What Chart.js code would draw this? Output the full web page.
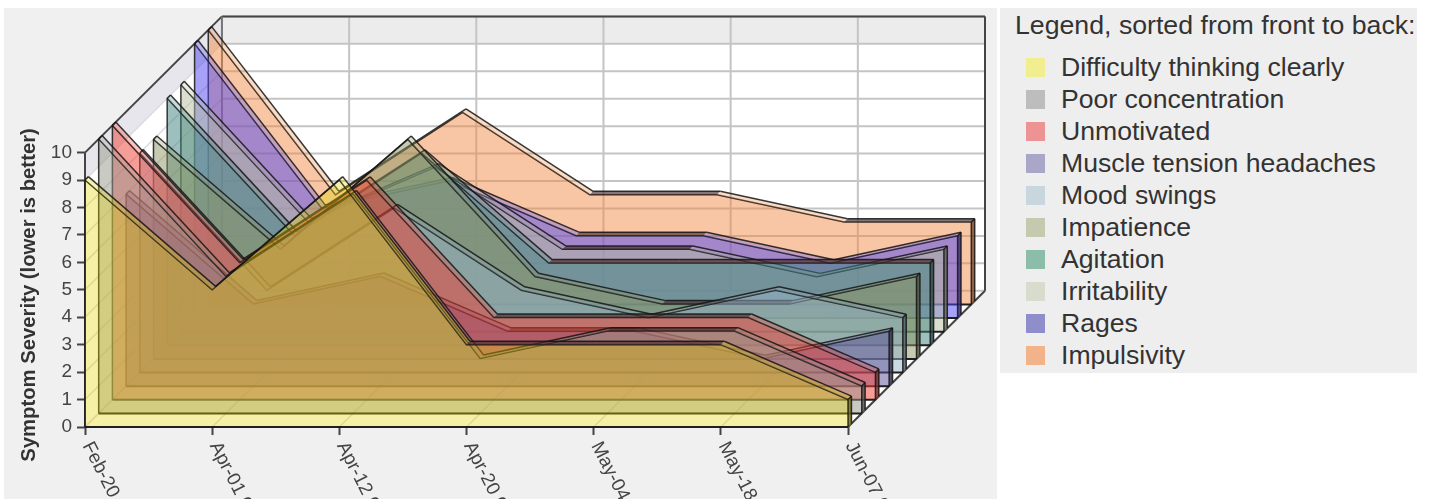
<!DOCTYPE html>
<html>
<head>
<meta charset="utf-8">
<title>Symptom Severity</title>
<script src="https://cdn.jsdelivr.net/npm/chart.js@4/dist/chart.umd.min.js"></script>
<style>
  html, body { margin: 0; padding: 0; background: #fff; }
  body { width: 1433px; height: 499px; overflow: hidden; position: relative; font-family: "Liberation Sans", Arial, sans-serif; }
  #panel { position: absolute; left: 4px; top: 8px; width: 993px; height: 491px; background: #f0f0f0; }
  #wrap { position: absolute; left: 0; top: 0; width: 1000px; height: 499px; }
  #legend { position: absolute; left: 1000px; top: 8px; width: 417px; height: 365px; background: #eeeeee; color: #333; }
  #legend .title { position: absolute; left: 15px; top: 2px; font-size: 26.7px; line-height: 30px; white-space: nowrap; }
  #legend .item { position: absolute; left: 61px; font-size: 26.6px; line-height: 32px; white-space: nowrap; }
  #legend .swatch { position: absolute; left: 26px; width: 19px; height: 19px; }
</style>
</head>
<body>
<div id="panel"></div>
<div id="wrap"><canvas id="chart" width="1000" height="499"></canvas></div>
<div id="legend"><div class="title">Legend, sorted from front to back:</div></div>
<script>
document.addEventListener("DOMContentLoaded", () => {

  // Sorted from front to back
  const dates = ["Feb-20", "Apr-01 0", "Apr-12 0", "Apr-20 0", "May-04", "May-18", "Jun-07 0"];
  const severityTicks = [0, 1, 2, 3, 4, 5, 6, 7, 8, 9, 10];
  const seriesNames = ["Difficulty thinking clearly", "Poor concentration", "Unmotivated", "Muscle tension headaches",
    "Mood swings", "Impatience", "Agitation", "Irritability", "Rages", "Impulsivity"];

  const difficultyThinking = [9, 5, 9, 3, 3, 3, 1];
  const poorConcentration = [10, 5, 8, 2, 3, 3, 1];
  const unmotivated = [10, 5, 8, 3, 3, 3, 1];
  const muscleTension = [7, 3, 4, 2, 2, 1, 2];
  const moodSwings = [8, 3, 6, 3, 2, 3, 2];
  const impatience = [8, 4, 8, 3, 2, 2, 3];
  const agitation = [9, 4, 7, 3, 3, 3, 3];
  const irritability = [9, 4, 6, 3, 3, 2, 3];
  const rages = [10, 4, 5, 3, 3, 2, 3];
  const impulsivity = [10, 4, 7, 4, 4, 3, 3];
  const seriesValues = [difficultyThinking, poorConcentration, unmotivated, muscleTension, moodSwings,
    impatience, agitation, irritability, rages, impulsivity];

  const seriesRgb = ["226,212,0", "150,150,140", "240,60,50", "90,80,150", "150,180,200",
    "140,150,100", "60,130,125", "180,190,160", "80,70,240", "240,135,65"];
  const seriesAlpha = [0.35, 0.5, 0.5, 0.5, 0.5, 0.5, 0.5, 0.5, 0.5, 0.48];
  const legendColors = ["#f0ee8f", "#bdbdbd", "#ee9393", "#a9a7c8", "#c8d6de",
    "#c5c9ad", "#8bbda8", "#d8dccd", "#8f8ecb", "#f2b38a"];

  // Projection: every depth plane is the same axis pair with a shifted range
  const X_SPAN = 7.077, Y_SPAN = 14.964;
  const DEPTH_X = 0.1077, DEPTH_Y = 0.4964;
  const PLANES = seriesNames.length;
  const RIBBON = 3.4;

  const scales = {
    x: {
      type: "linear", position: "bottom", min: 0, max: X_SPAN, bounds: "data",
      afterBuildTicks: s => { s.ticks = dates.map((d, k) => ({ value: k })); },
      afterFit: s => { s.height = 72; },
      border: { display: false },
      grid: { drawOnChartArea: false, drawTicks: true, tickLength: 8, tickColor: "#444", tickWidth: 2 },
      ticks: { display: false, autoSkip: false }
    },
    y: {
      type: "linear", position: "left", min: 0, max: Y_SPAN, bounds: "data",
      afterBuildTicks: s => { s.ticks = severityTicks.map(v => ({ value: v })); },
      afterFit: s => { s.width = 85; },
      border: { display: false },
      grid: { drawOnChartArea: false, drawTicks: true, tickLength: 8, tickColor: "#444", tickWidth: 2 },
      ticks: { autoSkip: false, padding: 5, color: "#444", font: { family: "Liberation Sans", size: 19 }, callback: v => String(v) }
    }
  };
  for (let i = 0; i <= PLANES; i++) {
    scales["x" + i] = { type: "linear", axis: "x", display: false, bounds: "data", min: -i * DEPTH_X, max: X_SPAN - i * DEPTH_X };
    scales["y" + i] = { type: "linear", axis: "y", display: false, bounds: "data", min: -i * DEPTH_Y, max: Y_SPAN - i * DEPTH_Y };
  }

  const datasets = seriesNames.map((name, i) => ({
    label: name,
    data: seriesValues[i].map((v, k) => ({ x: k, y: v })),
    xAxisID: "x" + i,
    yAxisID: "y" + i,
    fill: "origin",
    tension: 0,
    pointRadius: 0,
    borderWidth: 1.5,
    borderColor: "rgba(20,20,20,0.85)",
    backgroundColor: "rgba(" + seriesRgb[i] + "," + seriesAlpha[i] + ")"
  }));

  function line(ctx, a, b, color, width) {
    ctx.strokeStyle = color;
    ctx.lineWidth = width;
    ctx.beginPath();
    ctx.moveTo(a.x, a.y);
    ctx.lineTo(b.x, b.y);
    ctx.stroke();
  }

  function poly(ctx, pts, color) {
    ctx.fillStyle = color;
    ctx.beginPath();
    pts.forEach((p, n) => (n ? ctx.lineTo(p.x, p.y) : ctx.moveTo(p.x, p.y)));
    ctx.closePath();
    ctx.fill();
  }

  // pixel position of (category, severity) on a depth plane
  function at(chart, plane, k, v) {
    return { x: chart.scales["x" + plane].getPixelForValue(k), y: chart.scales["y" + plane].getPixelForValue(v) };
  }

  const box3d = {
    id: "box3d",
    beforeDatasetsDraw(chart) {
      const ctx = chart.ctx;
      const last = dates.length - 1, top = severityTicks[severityTicks.length - 1];
      const f = (k, v) => at(chart, 0, k, v);
      const b = (k, v) => at(chart, PLANES, k, v);
      ctx.save();
      // walls and floor
      poly(ctx, [b(0, 0), b(last, 0), b(last, top), b(0, top)], "#fff");
      poly(ctx, [f(0, 0), b(0, 0), b(0, top), f(0, top)], "#fff");
      poly(ctx, [f(0, 0), f(last, 0), b(last, 0), b(0, 0)], "#fff");
      poly(ctx, [b(0, top - 1), b(last, top - 1), b(last, top), b(0, top)], "#ececec");
      poly(ctx, [f(0, top - 1), b(0, top - 1), b(0, top), f(0, top)], "#e6e6ec");
      // grid
      severityTicks.forEach(v => {
        line(ctx, b(0, v), b(last, v), "#c4c4c4", 2);
        line(ctx, f(0, v), b(0, v), "#dcdcdc", 1.5);
      });
      dates.forEach((d, k) => {
        line(ctx, b(k, 0), b(k, top), "#c4c4c4", 2);
        line(ctx, f(k, 0), b(k, 0), "#dcdcdc", 1.5);
      });
      // frame
      const frame = "#444";
      line(ctx, f(0, 0), f(0, top), frame, 2);
      line(ctx, f(0, top), b(0, top), frame, 2);
      line(ctx, b(0, top), b(last, top), frame, 2);
      line(ctx, b(last, top), b(last, 0), frame, 2);
      line(ctx, b(last, 0), f(last, 0), frame, 2);
      line(ctx, b(0, top), b(0, 0), "#777", 2);
      ctx.restore();
    },
    afterDatasetDraw(chart, args) {
      const ctx = chart.ctx;
      const i = args.index;
      const pts = args.meta.data;
      const rgb = seriesRgb[i];
      const dark = "rgba(20,20,20,0.85)";
      const off = p => ({ x: p.x + RIBBON, y: p.y - RIBBON });
      const y0 = chart.scales["y" + i].getPixelForValue(0);
      const first = pts[0], end = pts[pts.length - 1];
      const baseL = { x: first.x, y: y0 }, baseR = { x: end.x, y: y0 };
      ctx.save();
      // top ribbon, one quad for each segment
      for (let n = 0; n < pts.length - 1; n++) {
        const a = pts[n], c = pts[n + 1];
        const flat = Math.abs(a.y - c.y) < 2;
        poly(ctx, [a, c, off(c), off(a)], flat ? "rgba(70,45,45,0.65)" : "rgba(" + rgb + ",0.3)");
      }
      // right end face
      poly(ctx, [end, off(end), off(baseR), baseR], "rgba(" + rgb + ",0.75)");
      poly(ctx, [end, off(end), off(baseR), baseR], "rgba(30,30,30,0.45)");
      for (let n = 0; n < pts.length - 1; n++) {
        line(ctx, off(pts[n]), off(pts[n + 1]), dark, 1.5);
      }
      line(ctx, first, off(first), dark, 1.5);
      line(ctx, end, off(end), dark, 1.5);
      line(ctx, off(end), off(baseR), dark, 1.5);
      line(ctx, first, baseL, dark, 1.5);
      line(ctx, end, baseR, dark, 1.5);
      line(ctx, baseL, baseR, "rgba(20,20,20,0.95)", 2);
      ctx.restore();
    },
    afterDraw(chart) {
      const ctx = chart.ctx;
      const xs = chart.scales.x, ys = chart.scales.y;
      ctx.save();
      ctx.fillStyle = "#444";
      ctx.textAlign = "left";
      ctx.textBaseline = "middle";
      ctx.font = "19px 'Liberation Sans'";
      dates.forEach((d, k) => {
        ctx.save();
        ctx.translate(xs.getPixelForValue(k) + 2, ys.getPixelForValue(0) + 16);
        ctx.rotate(63 * Math.PI / 180);
        ctx.fillText(d, 0, 0);
        ctx.restore();
      });
      ctx.translate(29, 295);
      ctx.rotate(-Math.PI / 2);
      ctx.textAlign = "center";
      ctx.font = "bold 20.3px 'Liberation Sans'";
      ctx.fillStyle = "#333";
      ctx.fillText("Symptom Severity (lower is better)", 0, 0);
      ctx.restore();
    }
  };

  new Chart(document.getElementById("chart").getContext("2d"), {
    type: "line",
    data: { datasets: datasets },
    options: {
      responsive: false,
      animation: false,
      layout: { padding: { top: 14, right: 15, left: 0, bottom: 0 } },
      plugins: { legend: { display: false }, tooltip: { enabled: false } },
      scales: scales
    },
    plugins: [box3d]
  });

  // Legend list
  const legend = document.getElementById("legend");
  seriesNames.forEach((name, i) => {
    const centre = 59 + i * 32;
    const sw = document.createElement("div");
    sw.className = "swatch";
    sw.style.top = (centre - 9) + "px";
    sw.style.background = legendColors[i];
    legend.appendChild(sw);
    const it = document.createElement("div");
    it.className = "item";
    it.style.top = (centre - 16) + "px";
    it.textContent = name;
    legend.appendChild(it);
  });
});
</script>
</body>
</html>
